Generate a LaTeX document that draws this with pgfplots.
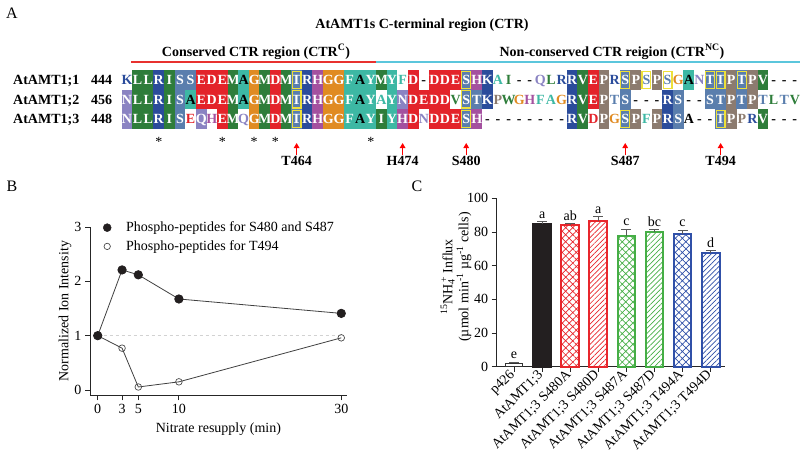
\documentclass[border=0pt]{standalone}
\usepackage{fontspec}
\setmainfont{Liberation Serif}
\usepackage{pgfplots}
\pgfplotsset{compat=1.18}
\usetikzlibrary{patterns.meta,arrows.meta}

\definecolor{cG}{HTML}{2E7D3A}
\definecolor{cB}{HTML}{2B4C9B}
\definecolor{cS}{HTML}{5A7EAD}
\definecolor{cR}{HTML}{E3232A}
\definecolor{cT}{HTML}{3DB8A4}
\definecolor{cO}{HTML}{E08B22}
\definecolor{cH}{HTML}{A4519F}
\definecolor{cN}{HTML}{8A83C2}
\definecolor{cP}{HTML}{8C7B6F}
\definecolor{cY}{HTML}{EDE03A}
\definecolor{lnRed}{HTML}{E8312F}
\definecolor{lnCyan}{HTML}{5BC6DC}
\definecolor{bRed}{HTML}{E8262C}
\definecolor{bGreen}{HTML}{45AE45}
\definecolor{bBlue}{HTML}{3050A8}
\definecolor{bBlack}{HTML}{231F20}

\newcommand\setrc[2]{\expandafter\def\csname rc@#1\endcsname{#2}}
\setrc{L}{cG}\setrc{I}{cG}\setrc{M}{cG}\setrc{V}{cG}\setrc{W}{cG}
\setrc{R}{cB}\setrc{K}{cB}
\setrc{S}{cS}\setrc{T}{cS}
\setrc{D}{cR}\setrc{E}{cR}
\setrc{A}{cT}\setrc{F}{cT}\setrc{Y}{cT}
\setrc{G}{cO}\setrc{H}{cH}\setrc{N}{cN}\setrc{Q}{cN}\setrc{P}{cP}
\setrc{-}{black}

\tikzset{cellt/.style={font=\fontsize{14}{16}\selectfont\bfseries, inner sep=0pt, anchor=base}}

\newcommand\alnrow[2]{%
 \foreach \L/\C [count=\i from 0] in {#2} {%
   \pgfmathsetmacro\xx{127+10.6*\i}%
   \edef\cc{\csname rc@\L\endcsname}%
   \if\C c \fill[\cc] (\xx-5.4,-#1-9.8) rectangle (\xx+5.4,-#1+9.8); \node[cellt,white] at (\xx,-#1-4.7) {\L};\fi
   \if\C k \fill[\cc] (\xx-5.4,-#1-9.8) rectangle (\xx+5.4,-#1+9.8); \node[cellt,black] at (\xx,-#1-4.7) {\L};\fi
   \if\C b \fill[\cc] (\xx-5.4,-#1-9.8) rectangle (\xx+5.4,-#1+9.8); \node[cellt,white] at (\xx,-#1-4.7) {\L};
           \draw[cY, line width=1.3pt] (\xx-4.4,-#1-8.6) rectangle (\xx+4.4,-#1+8.6);\fi
   \if\C w \node[cellt,text=\cc] at (\xx,-#1-4.7) {\L};\fi
   \if\C y \node[cellt,text=\cc] at (\xx,-#1-4.7) {\L};
           \draw[cY, line width=1.3pt] (\xx-4.4,-#1-8.6) rectangle (\xx+4.4,-#1+8.6);\fi
   \if\C K \node[cellt,black] at (\xx,-#1-4.7) {\L};\fi
   \if\C d \node[cellt,black] at (\xx,-#1-4.7) {-};\fi
 }}

\begin{document}
\begin{tikzpicture}[x=1pt,y=1pt]
\path[use as bounding box] (0,0) rectangle (800,-461);

% ---------------- Panel A ----------------
\node[anchor=base, font=\fontsize{16}{18}\selectfont] at (12,-18) {A};
\node[anchor=base, font=\fontsize{14}{16}\selectfont\bfseries] at (422,-28) {AtAMT1s C-terminal region (CTR)};
\node[anchor=base, font=\fontsize{14}{16}\selectfont\bfseries] at (256,-56) {Conserved CTR region (CTR\textsuperscript{C})};
\node[anchor=base, font=\fontsize{14}{16}\selectfont\bfseries] at (612,-56) {Non-conserved CTR reigion (CTR\textsuperscript{NC})};
\draw[lnRed, line width=2pt] (131,-62) -- (376,-62);
\draw[lnCyan, line width=2pt] (376,-62) -- (800,-62);

\foreach \nm/\num/\yy in {AtAMT1;1/444/80, AtAMT1;2/456/99.4, AtAMT1;3/448/118.8}{
  \node[cellt, anchor=base west] at (13,-\yy-4.7) {\nm};
  \node[cellt, anchor=base west] at (91,-\yy-4.7) {\num};
}

\alnrow{80}{K/w,L/c,L/c,R/c,I/c,S/c,S/c,E/c,D/c,E/c,M/c,A/k,G/c,M/c,D/c,M/c,T/b,R/c,H/c,G/c,G/c,F/c,A/k,Y/c,M/c,Y/c,F/w,D/c,-/d,D/c,D/c,E/c,S/b,H/c,K/c,A/w,I/w,-/d,-/d,Q/w,L/w,R/w,R/c,V/c,E/c,P/c,R/w,S/b,P/c,S/y,P/c,S/y,G/w,A/k,N/w,T/b,T/b,P/c,T/b,P/c,V/c,-/d,-/d,-/d}
\alnrow{99.4}{N/c,L/c,L/c,R/c,I/c,S/c,A/k,E/c,D/c,E/c,M/c,A/k,G/c,M/c,D/c,M/c,T/b,R/c,H/c,G/c,G/c,F/c,A/k,Y/c,A/w,Y/c,N/c,D/c,E/c,D/c,D/c,V/w,S/b,T/c,K/c,P/w,W/w,G/w,H/w,F/w,A/w,G/w,R/c,V/c,E/c,P/c,T/w,S/c,-/d,-/d,-/d,R/c,S/c,-/d,-/d,S/c,T/c,P/c,T/c,P/c,T/w,L/w,T/w,V/w}
\alnrow{118.8}{N/c,L/c,L/c,R/c,I/c,S/c,E/w,Q/c,H/w,E/c,M/c,Q/w,G/c,M/c,D/c,M/c,T/b,R/c,H/c,G/c,G/c,F/c,A/k,Y/c,I/c,Y/c,H/c,D/c,N/w,D/c,D/c,E/c,S/b,H/c,-/d,-/d,-/d,-/d,-/d,-/d,-/d,-/d,R/c,V/c,D/w,P/c,G/w,S/b,P/c,F/w,P/c,R/c,S/c,A/K,-/d,-/d,T/b,P/c,P/w,R/w,V/c,-/d,-/d,-/d}

\foreach \c in {3,9,12,14,23}{
  \node[anchor=base, inner sep=0pt, font=\fontsize{14}{16}\selectfont] at ({127+10.6*\c},-146.5) {*};
}
\foreach \c/\lab in {16/T464,26/H474,32/S480,47/S487,56/T494}{
  \draw[red, line width=1.3pt, -{Triangle[width=5.5pt,length=5pt]}] ({127+10.6*\c},-155) -- ({127+10.6*\c},-143);
  \node[cellt] at ({127+10.6*\c},-165) {\lab};
}

% ---------------- Panel B ----------------
\node[anchor=base, font=\fontsize{16}{18}\selectfont] at (12,-191) {B};
\begin{axis}[at={(90pt,-395.3pt)}, anchor=south west, scale only axis,
  width=256.7pt, height=168.3pt,
  xmin=-0.95, xmax=30.67, ymin=-0.098, ymax=3,
  axis x line=bottom, axis y line=left,
  axis line style={-, line width=0.8pt, black!85},
  xtick={0,3,5,10,30}, ytick={0,1,2,3},
  tick align=outside, major tick length=5pt,
  tick style={line width=0.8pt, black!85},
  tick label style={font=\fontsize{14}{16}\selectfont},
  /pgf/number format/assume math mode=true,
  xlabel={Nitrate resupply (min)}, ylabel={Normalized Ion Intensity},
  label style={font=\fontsize{14}{16}\selectfont},
  xlabel style={at={(axis description cs:0.5,-0.2)}, anchor=center},
  ylabel style={at={(axis description cs:-0.0974,0.5)}, anchor=center},
  legend image code/.code={\path[draw=none, fill=none] (0pt,0pt) -- (24pt,0pt); \draw[#1] plot coordinates {(6pt,0pt)};},
  legend style={at={(axis description cs:0.0429,1.037)}, anchor=north west,
    draw=none, fill=none, font=\fontsize{14}{16}\selectfont,
    row sep=5.4pt, inner sep=0pt, nodes={inner sep=1pt}},
  legend cell align=left,
  clip=false]
\addplot[gray!35, dashed, line width=0.8pt, forget plot] coordinates {(0,1) (30,1)};
\addplot[line width=0.8pt, color=black!75, mark=o, mark size=3.3pt,
  mark options={fill=white, draw=black!70, line width=0.7pt}, forget plot]
  coordinates {(0,1) (3,0.77) (5,0.055) (10,0.15) (30,0.96)};
\addplot[line width=0.8pt, color=black!75, mark=*, mark size=4.2pt,
  mark options={fill=bBlack, draw=bBlack}, forget plot]
  coordinates {(0,1) (3,2.21) (5,2.12) (10,1.675) (30,1.41)};
\addlegendimage{only marks, mark=*, mark size=4pt, mark options={fill=bBlack, draw=bBlack}}
\addlegendentry{Phospho-peptides for S480 and S487}
\addlegendimage{only marks, mark=o, mark size=3.2pt, mark options={fill=white, draw=black!70, line width=0.7pt}}
\addlegendentry{Phospho-peptides for T494}
\end{axis}

% ---------------- Panel C ----------------
\node[anchor=base, font=\fontsize{16}{18}\selectfont] at (417,-191) {C};
\begin{axis}[at={(496.7pt,-366.7pt)}, anchor=south west, scale only axis,
  width=228.3pt, height=168.4pt,
  xmin=-0.616, xmax=7.51, ymin=0, ymax=100,
  axis x line=bottom, axis y line=left,
  axis line style={-, line width=0.8pt, black!85},
  xtick={0,...,7},
  xticklabels={p426, AtAMT1;3, AtAMT1;3 S480A, AtAMT1;3 S480D, AtAMT1;3 S487A, AtAMT1;3 S487D, AtAMT1;3 T494A, AtAMT1;3 T494D},
  ytick={0,20,...,100},
  tick align=outside, major tick length=5pt,
  tick style={line width=0.8pt, black!85},
  tick label style={font=\fontsize{14}{16}\selectfont},
  x tick label style={rotate=45, anchor=east, inner sep=1.5pt},
  /pgf/number format/assume math mode=true,
  ylabel={\textsuperscript{15}NH\rlap{\textsubscript{4}}\textsuperscript{\,+} Influx\\(µmol min\textsuperscript{-1} µg\textsuperscript{-1} cells)},
  ylabel style={align=center, font=\fontsize{14}{16}\selectfont, at={(axis description cs:-0.178,0.533)}, anchor=center},
  clip=false,
  bstyle/.style={ybar, bar width=17.7pt, bar shift=0pt, line width=2pt,
     error bars/y dir=plus, error bars/y explicit,
     error bars/error bar style={line width=1pt, black!65},
     error bars/error mark options={rotate=90, mark size=5pt, line width=1pt, black!65}},
  ]
\addplot[bstyle, draw=black!80, fill=white, line width=1.2pt] coordinates {(0,2.0) +- (0,0.7)};
\addplot[bstyle, draw=bBlack, fill=bBlack] coordinates {(1,85.0) +- (0,1.1)};
\addplot[bstyle, draw=bRed, pattern={Hatch[angle=45,distance=5pt,line width=0.7pt]}, pattern color=bRed] coordinates {(2,84.0) +- (0,1.0)};
\addplot[bstyle, draw=bRed, pattern={Lines[angle=45,distance=3.6pt,line width=0.7pt]}, pattern color=bRed] coordinates {(3,86.8) +- (0,2.3)};
\addplot[bstyle, draw=bGreen, pattern={Hatch[angle=45,distance=5pt,line width=0.7pt]}, pattern color=bGreen] coordinates {(4,77.7) +- (0,3.9)};
\addplot[bstyle, draw=bGreen, pattern={Lines[angle=45,distance=3.6pt,line width=0.7pt]}, pattern color=bGreen] coordinates {(5,80.0) +- (0,1.2)};
\addplot[bstyle, draw=bBlue, pattern={Hatch[angle=45,distance=5pt,line width=0.7pt]}, pattern color=bBlue] coordinates {(6,78.7) +- (0,2.3)};
\addplot[bstyle, draw=bBlue, pattern={Lines[angle=45,distance=3.6pt,line width=0.7pt]}, pattern color=bBlue] coordinates {(7,67.7) +- (0,1.2)};
\foreach \xi/\yv/\lt in {0/2.7/e, 1/86.1/a, 2/85.0/ab, 3/89.1/a, 4/81.6/c, 5/81.2/bc, 6/81.0/c, 7/68.9/d}{
  \edef\tmp{\noexpand\node[above, inner sep=3pt, font=\noexpand\fontsize{14}{16}\noexpand\selectfont] at (axis cs:\xi,\yv) {\lt};}\tmp
}
\end{axis}
\end{tikzpicture}
\end{document}
